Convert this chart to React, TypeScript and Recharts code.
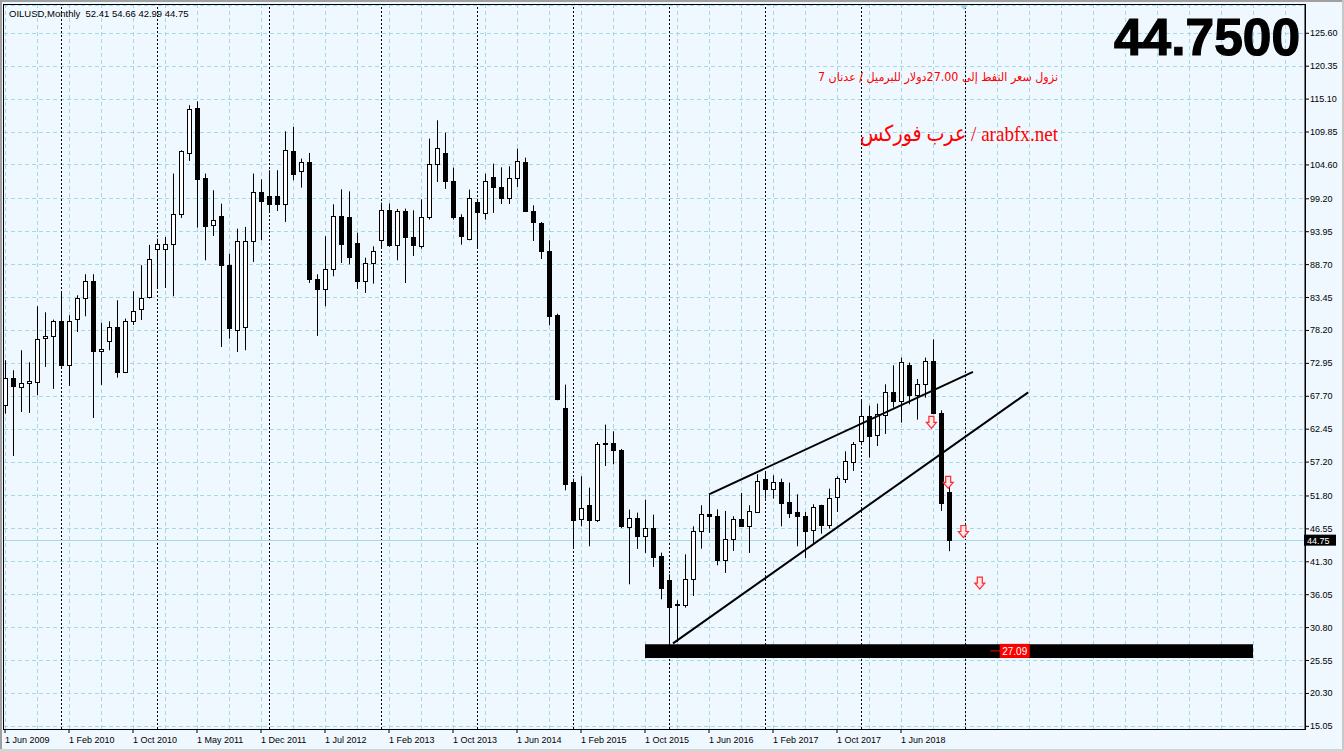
import React from "react";
import {
  ComposedChart, Bar, XAxis, YAxis, CartesianGrid, ReferenceLine, ReferenceArea, ReferenceDot,
} from "recharts";

// OILUSD monthly candles (bar index 0 = Jun 2009)
const OPEN = [
  66.26, 70.68, 69.24, 69.82, 70.04, 77.06, 77.38, 79.66, 72.7, 80.09,
  83.44, 86.15, 74.98, 76.58, 78.81, 71.58, 79.77, 81.68, 83.54, 91.25,
  91.25, 92.05, 96.84, 106.57, 113.75, 102.58, 95.08, 96.41, 88.7, 78.33,
  78.81, 92.53, 100.35, 99.71, 99.71, 98.43, 106.89, 103.59, 105.02, 86.47,
  84.87, 88.06, 96.51, 96.35, 92.21, 86.09, 89.02, 92.69, 97.47, 91.89,
  97.31, 93.06, 91.73, 96.35, 104.81, 106.56, 102.1, 96.35, 92.85, 98.75,
  96.99, 102.73, 101.14, 99.39, 102.57, 105.13, 97.31, 95.29, 90.93, 80.62,
  65.89, 54.09, 48.13, 50.42, 47.97, 60.15, 60.31, 59.19, 46.85, 48.34,
  45.47, 46.75, 42.18, 38.35, 34.47, 34.47, 38.61, 46.16, 48.98, 48.56,
  41.64, 44.99, 48.18, 47.07, 49.3, 54.46, 52.92, 54.09, 50.9, 49.3,
  48.66, 46.43, 50.31, 47.17, 51.69, 54.56, 57.28, 60.57, 64.61, 61.58,
  64.77, 68.44, 67.01, 72.64, 67.96, 69.72, 73.28, 65.09, 52.41,
];
const HIGH = [
  73.44, 71.85, 75.04, 73.12, 82.06, 81.1, 79.93, 84.29, 80.62, 83.81,
  87.16, 87.16, 79.4, 79.66, 83.01, 80.09, 84.45, 88.6, 91.84, 92.85,
  93.11, 103.22, 106.94, 114.12, 114.75, 103.22, 100.56, 98.43, 90.45, 94.44,
  94.71, 103.22, 102.31, 103.75, 103.75, 109.97, 110.66, 105.61, 106.51, 87.16,
  93.22, 98.32, 100.71, 100.39, 93.8, 89.81, 91.62, 98.59, 98.43, 97.58,
  97.63, 97.36, 99.12, 108.8, 111.72, 109.75, 104.17, 96.73, 100.66, 99.22,
  103.21, 104.81, 104.22, 104.38, 107.2, 105.76, 98.16, 95.5, 92.58, 80.88,
  69.56, 54.56, 54.94, 53.13, 60.4, 63.18, 62.11, 59.3, 49.62, 49.14,
  51.22, 48.82, 42.76, 39.3, 35.16, 42.49, 46.96, 50.31, 52.06, 49.67,
  49.41, 48.56, 52.28, 50.31, 55.26, 55.63, 55.1, 54.56, 53.93, 52.07,
  49.25, 50.47, 50.4, 52.97, 54.94, 58.92, 60.41, 67.06, 66.21, 66.53,
  69.61, 72.64, 73.87, 73.07, 70.46, 73.87, 76.79, 65.46, 54.66,
];
const LOW = [
  64.93, 58.18, 65.2, 65.04, 67.86, 72.38, 68.87, 72.4, 69.35, 77.96,
  80.46, 64.24, 69.51, 75.04, 70.68, 71.4, 79.08, 79.87, 83.3, 84.87,
  84.98, 83.65, 96.15, 105.24, 94.6, 89.39, 93.27, 75.57, 76.9, 74.77,
  75.04, 89.13, 92.58, 97.26, 97.26, 95.51, 102.15, 100.98, 85.78, 77.32,
  82.06, 86.84, 88.96, 88.75, 84.82, 84.18, 85.67, 91.52, 91.52, 89.39,
  85.77, 90.08, 91.25, 95.88, 101.88, 100.77, 95.88, 91.89, 92.58, 91.25,
  95.88, 96.94, 98.37, 98.37, 101.09, 97.1, 92.47, 89.6, 79.02, 67.06,
  52.7, 43.66, 46.96, 43.77, 47.65, 56.58, 56.85, 46.7, 37.71, 43.35,
  42.71, 40.48, 35.32, 27.09, 28.51, 33.99, 35.85, 43.4, 45.9, 40.74,
  39.52, 43.03, 46.9, 42.71, 49.2, 51.37, 51.37, 46.96, 48.29, 43.77,
  41.91, 44.2, 45.79, 46.59, 49.25, 53.87, 55.79, 59.88, 57.91, 59.77,
  61.69, 65.89, 63.5, 66.42, 63.98, 67.48, 64.83, 49.41, 42.99,
];
const CLOSE = [
  70.68, 69.4, 69.88, 70.2, 76.9, 77.38, 79.66, 72.7, 79.66, 83.44,
  86.15, 74.93, 75.3, 78.81, 71.58, 79.77, 81.36, 83.44, 89.66, 92.05,
  92.05, 96.84, 106.78, 113.59, 102.42, 94.87, 95.88, 88.7, 78.65, 92.48,
  92.48, 100.35, 98.86, 98.43, 98.43, 107.05, 103.22, 105.02, 86.41, 84.82,
  88.06, 96.51, 91.99, 89.92, 86.09, 89.02, 90.93, 97.47, 91.78, 97.31,
  93.16, 91.89, 96.35, 104.81, 107.36, 102.1, 96.3, 93.32, 99.39, 97.1,
  102.1, 101.09, 99.33, 102.57, 105.29, 97.31, 95.5, 90.93, 80.56, 67.27,
  53.77, 47.97, 49.94, 47.97, 60.15, 60.2, 59.14, 46.96, 48.34, 45.42,
  46.75, 42.07, 37.12, 34.09, 34.5, 38.61, 46.16, 48.98, 48.66, 41.54,
  44.99, 48.18, 46.96, 49.35, 54.14, 52.92, 54.09, 50.68, 49.09, 48.61,
  46.22, 50.1, 47.17, 51.53, 54.72, 57.44, 60.15, 64.61, 61.37, 64.93,
  68.44, 67.01, 73.23, 67.91, 69.72, 73.39, 65.04, 50.68, 44.75,
];

const X_TICKS = [0, 8, 16, 24, 32, 40, 48, 56, 64, 72, 80, 88, 96, 104, 112];
const X_LABELS = [
  "1 Jun 2009", "1 Feb 2010", "1 Oct 2010", "1 May 2011", "1 Dec 2011", "1 Jul 2012",
  "1 Feb 2013", "1 Oct 2013", "1 Jun 2014", "1 Feb 2015", "1 Oct 2015", "1 Jun 2016",
  "1 Feb 2017", "1 Oct 2017", "1 Jun 2018",
];
const Y_TICKS = [
  125.6, 120.35, 115.1, 109.85, 104.6, 99.2, 93.95, 88.7, 83.45, 78.2, 72.95,
  67.7, 62.45, 57.2, 51.8, 46.55, 41.3, 36.05, 30.8, 25.55, 20.3, 15.05,
];
const YEAR_SEPARATORS = [7, 19, 33, 47, 59, 71, 83, 95, 107, 120];
const GRID_X = Array.from({ length: 41 }, (_, k) => k * 4);

const UPPER_LINE = [{ x: 88, y: 52.06 }, { x: 121, y: 71.6 }];
const LOWER_LINE = [{ x: 83.5, y: 28.29 }, { x: 127.9, y: 68.33 }];
const ARROW_X = [115.8, 117.9, 119.8, 121.85];
const ARROW_Y = [63.55, 53.97, 46.13, 37.91];
const SUPPORT_BAND = [80, 156, 25.95, 28.13];
const SUPPORT_LEVEL = 27.09;
const SUPPORT_LABEL_X = 124.4;
const LAST_PRICE = 44.75;

const data = OPEN.map((o, i) => ({ i, o, h: HIGH[i], l: LOW[i], c: CLOSE[i], range: [LOW[i], HIGH[i]] }));

const GRID = "#A6D7E4";
const FONT = "'Liberation Sans', Arial, sans-serif";

const Candle = (p: any) => {
  const { x, y, width, height, payload } = p;
  if (x == null || !payload) return null;
  const { o, h, l, c } = payload;
  const top = Math.min(y, y + height);
  const bot = Math.max(y, y + height);
  const k = h > l ? (bot - top) / (h - l) : 0;
  const yo = top + (h - o) * k;
  const yc = top + (h - c) * k;
  const cx = Math.round(x + width / 2);
  const b0 = Math.round(Math.min(yo, yc)) + 0.5;
  const b1 = Math.round(Math.max(yo, yc)) + 0.5;
  return (
    <g>
      <line x1={cx + 0.5} x2={cx + 0.5} y1={top} y2={bot} stroke="#000" strokeWidth={1} />
      <rect x={cx - 1.5} y={b0} width={4} height={Math.max(b1 - b0, 1)}
        fill={c >= o ? "#fff" : "#000"} stroke="#000" strokeWidth={1} />
    </g>
  );
};

const Arrow = ({ cx, cy }: any) => (
  <path d={`M${cx - 2.5},${cy - 6} H${cx + 2.5} V${cy} H${cx + 5} L${cx},${cy + 6} L${cx - 5},${cy} H${cx - 2.5} Z`}
    fill="#FFE8EC" stroke="#FF2A2A" strokeWidth={1.2} />
);

const SupportLabel = ({ cx, cy }: any) => (
  <g>
    <line x1={cx - 10} x2={cx} y1={cy} y2={cy} stroke="#FF0000" strokeWidth={1} />
    <rect x={cx} y={cy - 6.5} width={29} height={13} fill="#FF0000" stroke="#FF0000" />
    <text x={cx + 14.5} y={cy + 4} textAnchor="middle" fill="#fff" fontSize={10} fontFamily={FONT}>
      {SUPPORT_LEVEL.toFixed(2)}
    </text>
  </g>
);

const XTick = ({ x, y, payload }: any) => {
  const idx = X_TICKS.indexOf(payload.value);
  return (
    <text x={x} y={y} dy={8} textAnchor="start" fontSize={9} fontFamily={FONT} fill="#000">
      {X_LABELS[idx]}
    </text>
  );
};

const YTick = ({ x, y, payload }: any) => (
  <text x={x} y={y} dy={3} textAnchor="start" fontSize={9} fontFamily={FONT} fill="#000">
    {Number(payload.value).toFixed(2)}
  </text>
);

const LastPriceTag = ({ viewBox }: any) => {
  const x = viewBox.x + viewBox.width;
  const y = viewBox.y;
  return (
    <g>
      <rect x={x - 1} y={y - 5.5} width={32} height={11} fill="#000" />
      <text x={x + 2} y={y + 3.5} fontSize={9} fontFamily={FONT} fill="#fff">{LAST_PRICE.toFixed(2)}</text>
    </g>
  );
};

const ShiftMark = ({ viewBox }: any) => (
  <path d={`M${viewBox.x - 5},${viewBox.y} L${viewBox.x + 3},${viewBox.y} L${viewBox.x - 1},${viewBox.y + 5} Z`} fill="#9FD3E3" />
);

export default function App() {
  return (
    <div style={{ position: "absolute", left: 0, top: 0, width: 1344, height: 752, background: "#F0F8FF", overflow: "hidden" }}>
      <ComposedChart width={1344} height={752} data={data} margin={{ top: 5, right: 0, bottom: 0, left: 4 }}>
        <CartesianGrid vertical={false} stroke={GRID} strokeDasharray="4 3" shapeRendering="crispEdges" />
        {GRID_X.map((gx) => (
          <ReferenceLine key={`g${gx}`} x={gx} stroke={GRID} strokeDasharray="4 3" zIndex={-90}
            shapeRendering="crispEdges" />
        ))}
        {YEAR_SEPARATORS.map((sx) => (
          <ReferenceLine key={`s${sx}`} x={sx} stroke="#000" strokeDasharray="2 2" zIndex={-80}
            shapeRendering="crispEdges" label={sx === 120 ? <ShiftMark /> : undefined} />
        ))}
        <ReferenceLine y={LAST_PRICE} stroke={GRID} zIndex={-70} shapeRendering="crispEdges" label={<LastPriceTag />} />
        <XAxis type="number" dataKey="i" domain={[-0.125, 162.5]} allowDataOverflow ticks={X_TICKS}
          interval={0} height={23} tickSize={4} tickMargin={2} axisLine={false}
          tickLine={{ stroke: "#000" }} tick={<XTick />} />
        <YAxis orientation="right" domain={[14.63, 130.11]} allowDataOverflow ticks={Y_TICKS}
          interval={0} width={39} tickSize={4} tickMargin={1} axisLine={{ stroke: "#000" }}
          tickLine={{ stroke: "#000" }} tick={<YTick />} />
        <Bar dataKey="range" barSize={5} isAnimationActive={false} shape={(p: any) => <Candle {...p} />} />
        <ReferenceArea x1={SUPPORT_BAND[0]} x2={SUPPORT_BAND[1]} y1={SUPPORT_BAND[2]} y2={SUPPORT_BAND[3]}
          fill="#000" fillOpacity={1} stroke="none" zIndex={1500} />
        <ReferenceLine segment={UPPER_LINE} stroke="#000" strokeWidth={2} zIndex={1500} />
        <ReferenceLine segment={LOWER_LINE} stroke="#000" strokeWidth={2} zIndex={1500} />
        {ARROW_X.map((ax, k) => (
          <ReferenceDot key={`a${k}`} x={ax} y={ARROW_Y[k]} r={6} shape={<Arrow />} zIndex={1600} />
        ))}
        <ReferenceDot x={SUPPORT_LABEL_X} y={SUPPORT_LEVEL} r={6} shape={<SupportLabel />} zIndex={1600} />
      </ComposedChart>
      <svg width={1344} height={752} style={{ position: "absolute", left: 0, top: 0, pointerEvents: "none" }}>
        <rect x={0} y={0} width={1344} height={2} fill="#A0A0A0" />
        <rect x={0} y={0} width={2} height={752} fill="#A0A0A0" />
        <rect x={1342} y={0} width={2} height={752} fill="#C8C8C8" />
        <rect x={0} y={749} width={1344} height={3} fill="#D4D4D4" />
        <rect x={3.5} y={4.5} width={1302} height={725} fill="none" stroke="#000" strokeWidth={1} />
        <text x={9} y={16.5} fontSize={9.5} fontFamily={FONT} fill="#000" style={{ whiteSpace: "pre" }}>
          {"OILUSD,Monthly  52.41 54.66 42.99 44.75"}
        </text>
        <text x={1300} y={55} textAnchor="end" fontSize={51} fontWeight="bold" fontFamily={FONT} fill="#000"
          stroke="#000" strokeWidth={1.2} textLength={186} lengthAdjust="spacingAndGlyphs">
          44.7500
        </text>
        <text x={1058} y={81} textAnchor="end" fontSize={12} fontFamily="'DejaVu Sans', sans-serif" fill="#FF0000"
          textLength={240} lengthAdjust="spacingAndGlyphs">
          نزول سعر النفط إلى 27.00دولار للبرميل / عدنان 7
        </text>
        <text x={1058} y={141} textAnchor="end" fontSize={22} fontFamily="'Liberation Serif', 'DejaVu Sans', serif" fill="#FF0000"
          textLength={198} lengthAdjust="spacingAndGlyphs">
          عرب فوركس / arabfx.net
        </text>
      </svg>
    </div>
  );
}
